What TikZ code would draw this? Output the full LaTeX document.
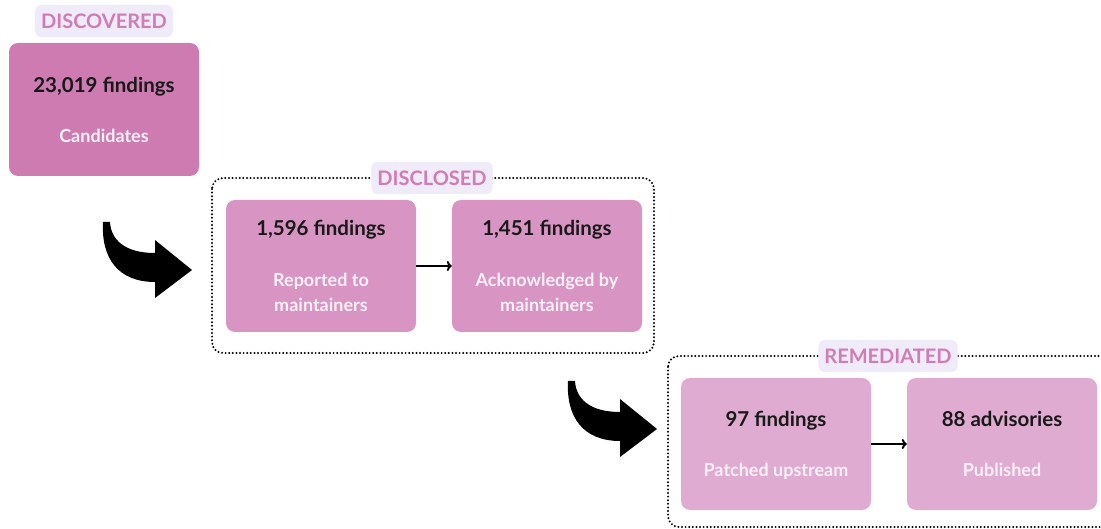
\documentclass[tikz,border=0pt]{standalone}
\usepackage{fontspec}
\setmainfont{Lato}
\usetikzlibrary{arrows.meta}
\definecolor{boxA}{HTML}{CD7BB0}
\definecolor{boxB}{HTML}{D895C3}
\definecolor{boxC}{HTML}{E0ABD0}
\definecolor{tagbg}{HTML}{F0EBF8}
\definecolor{tagfg}{HTML}{D27CB5}
\definecolor{subfg}{HTML}{FBF0F7}
\tikzset{
  stagebox/.style={rectangle, rounded corners=9pt, minimum width=190pt, minimum height=132pt, inner sep=0pt},
  titletext/.style={font=\bfseries\fontsize{20.5}{22}\selectfont, text=black!90, inner sep=0pt, anchor=base},
  subtext/.style={font=\bfseries\fontsize{18}{25}\selectfont, text=subfg, align=center, inner sep=0pt},
  tagbox/.style={rectangle, rounded corners=6pt, fill=tagbg, text=tagfg, font=\bfseries\fontsize{20}{22}\selectfont, minimum height=32pt, inner xsep=6pt},
  frameline/.style={line width=2.2pt, dash pattern=on 0pt off 3.6pt, line cap=round, rounded corners=11pt},
  flowarrow/.style={line width=2pt, -{To[length=5pt,width=10pt,line width=2pt]}},
  bigarrow/.style={fill=black}
}
\begin{document}
\begin{tikzpicture}[x=1pt,y=-1pt]
\useasboundingbox[fill=white] (0,0) rectangle (1101,529);
% frames
\draw[frameline] (212,178) rectangle (654,353);
\begin{scope}
\clip (600,330) rectangle (1101,529);
\draw[frameline] (668,356) rectangle (1130,527);
\end{scope}
% boxes
\node[stagebox, fill=boxA, minimum height=133pt] (b1) at (104,109.5) {};
\node[stagebox, fill=boxB] (b2) at (321,266) {};
\node[stagebox, fill=boxB] (b3) at (547,266) {};
\node[stagebox, fill=boxC] (b4) at (776,444) {};
\node[stagebox, fill=boxC] (b5) at (1002,444) {};
% texts
\node[titletext] (t1) at ([yshift=16.5pt]b1.center) {23,019 findings};
\node[subtext] (s1) at ([yshift=-26pt]b1.center) {Candidates};
\node[titletext] (t2) at ([yshift=30pt]b2.center) {1,596 findings};
\node[subtext] (s2) at ([yshift=-26pt]b2.center) {Reported to\\maintainers};
\node[titletext] (t3) at ([yshift=30pt]b3.center) {1,451 findings};
\node[subtext] (s3) at ([yshift=-26pt]b3.center) {Acknowledged by\\maintainers};
\node[titletext] (t4) at ([yshift=17pt]b4.center) {97 findings};
\node[subtext] (s4) at ([yshift=-27pt]b4.center) {Patched upstream};
\node[titletext] (t5) at ([yshift=17pt]b5.center) {88 advisories};
\node[subtext] (s5) at ([yshift=-26pt]b5.center) {Published};
% tags
\node[tagbox] (g1) at (104,21) {DISCOVERED};
\node[tagbox] (g2) at (432,178) {DISCLOSED};
\node[tagbox] (g3) at (888,356) {REMEDIATED};
% connectors
\draw[flowarrow] (b2.east) -- (b3.west);
\draw[flowarrow] (b4.east) -- (b5.west);
% big curved arrows
\foreach \dx/\dy in {0/0, 465/159} {
  \begin{scope}[shift={(\dx,\dy)}]
  \fill[bigarrow] (103,222) -- (110,222) .. controls (111,240) and (125,253) .. (155,253)
    -- (155,240) -- (192,270) -- (155,298) -- (155,282)
    .. controls (118,282) and (101,258) .. (103,222) -- cycle;
  \end{scope}
}
\end{tikzpicture}
\end{document}
